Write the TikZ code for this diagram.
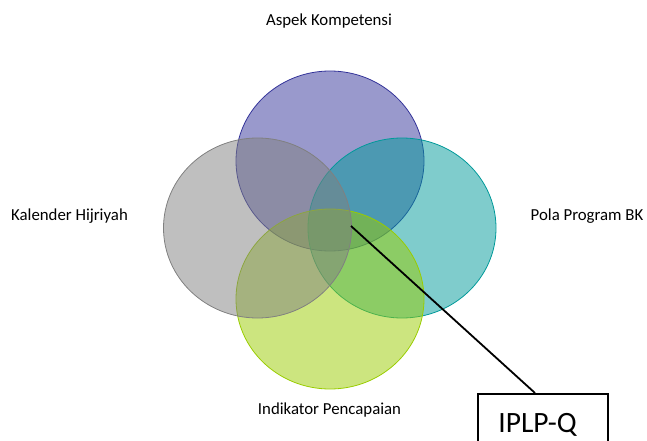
\documentclass[tikz,border=0pt]{standalone}
\usepackage{fontspec}
\setmainfont{Carlito}
\definecolor{cpurple}{RGB}{51,51,153}
\definecolor{cteal}{RGB}{0,153,153}
\definecolor{cgray}{RGB}{128,128,128}
\definecolor{cgreen}{RGB}{153,204,0}
\tikzset{
  venn/.style={ellipse, minimum width=188pt, minimum height=180pt, fill opacity=0.5, line width=0.8pt, inner sep=0pt},
  lbl/.style={anchor=base, inner sep=0pt, font=\fontsize{16.8}{20}\selectfont},
  tagbox/.style={draw=black, line width=1.5pt, fill=white, minimum width=130pt, minimum height=70pt, anchor=north west, inner sep=0pt},
  leader/.style={draw=black, line width=1.8pt}
}
\usetikzlibrary{shapes.geometric}
\begin{document}
\begin{tikzpicture}[x=1pt,y=-1pt]
\useasboundingbox (0,0) rectangle (647,441);
\clip (0,0) rectangle (647,441);
\node[venn, draw=cpurple, fill=cpurple] (top) at (330,161) {};
\node[venn, draw=cteal, fill=cteal] (right) at (402,228) {};
\node[venn, draw=cgreen, fill=cgreen] (bottom) at (330,299) {};
\node[venn, draw=cgray, fill=cgray] (left) at (257.5,228) {};
\node[lbl] (ltop) at (329,26) {Aspek Kompetensi};
\node[lbl] (lleft) at (69.5,220) {Kalender Hijriyah};
\node[lbl] (lright) at (587,220) {Pola Program BK};
\node[lbl] (lbottom) at (329.5,414) {Indikator Pencapaian};
\node[tagbox] (box) at (477,393) {};
\node[anchor=base, inner sep=0pt, font=\fontsize{29.5}{34}\selectfont] (boxtext) at (537.5,432) {IPLP-Q};
\coordinate (p) at (351,226);
\coordinate (q) at (535,393);
\draw[leader] (p) -- (q);
\end{tikzpicture}
\end{document}
